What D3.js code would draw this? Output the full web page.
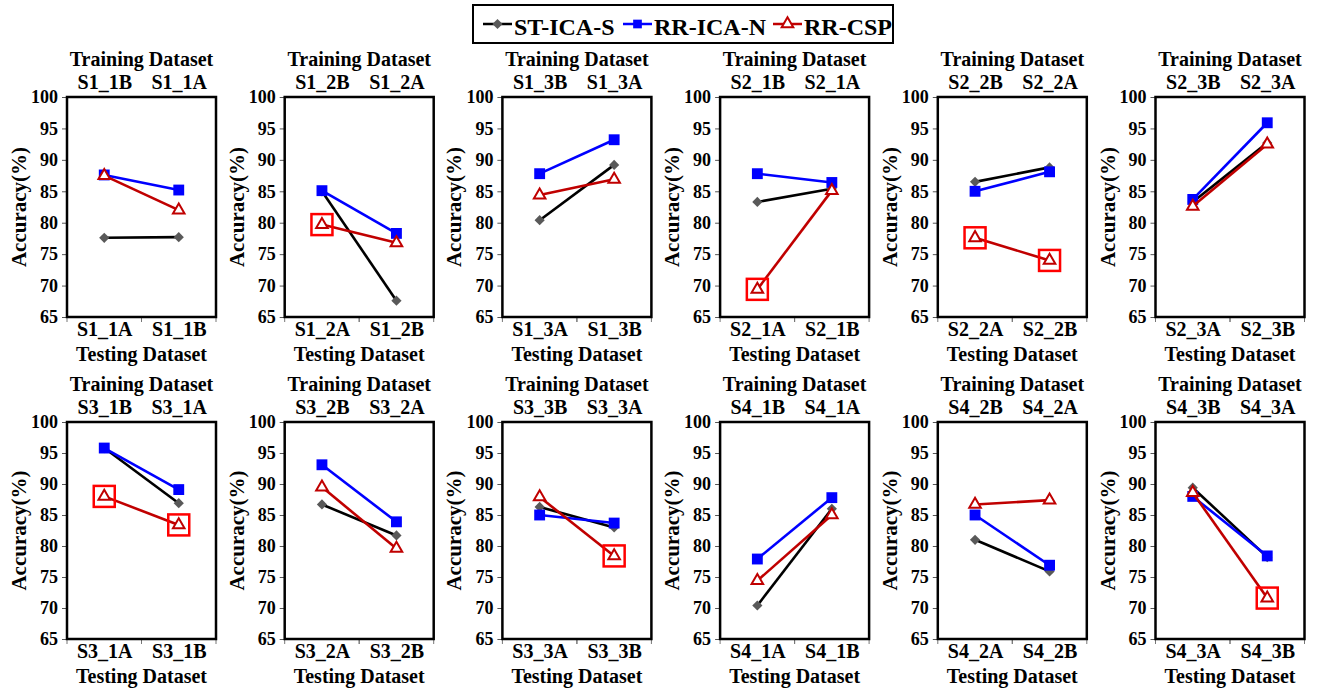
<!DOCTYPE html>
<html>
<head>
<meta charset="utf-8">
<script src="https://cdn.jsdelivr.net/npm/d3@7"></script>
<style>
  body { margin: 0; background: #fff; }
  text { font-family: "Liberation Serif", "Times New Roman", serif; font-weight: bold; }
</style>
</head>
<body>
<div id="chart"></div>
<script>
var series = ["ST-ICA-S", "RR-ICA-N", "RR-CSP"];

// top axis labels (training set) and bottom axis labels (testing set), one pair per panel
var trainLabels = [
    ["S1_1B", "S1_1A"], ["S1_2B", "S1_2A"], ["S1_3B", "S1_3A"],
    ["S2_1B", "S2_1A"], ["S2_2B", "S2_2A"], ["S2_3B", "S2_3A"],
    ["S3_1B", "S3_1A"], ["S3_2B", "S3_2A"], ["S3_3B", "S3_3A"],
    ["S4_1B", "S4_1A"], ["S4_2B", "S4_2A"], ["S4_3B", "S4_3A"]
];
var testLabels = [
    ["S1_1A", "S1_1B"], ["S1_2A", "S1_2B"], ["S1_3A", "S1_3B"],
    ["S2_1A", "S2_1B"], ["S2_2A", "S2_2B"], ["S2_3A", "S2_3B"],
    ["S3_1A", "S3_1B"], ["S3_2A", "S3_2B"], ["S3_3A", "S3_3B"],
    ["S4_1A", "S4_1B"], ["S4_2A", "S4_2B"], ["S4_3A", "S4_3B"]
];

var stIcaS = [
    [77.6, 77.7], [85.0, 67.6], [80.4, 89.2], [83.3, 85.4], [86.5, 88.8], [83.3, 92.7],
    [95.8, 86.9], [86.7, 81.7], [86.3, 83.0], [70.4, 86.0], [81.0, 75.9], [89.4, 78.2]
];
var rrIcaN = [
    [87.6, 85.2], [85.1, 78.3], [87.8, 93.2], [87.8, 86.4], [85.0, 88.1], [83.7, 95.9],
    [95.8, 89.1], [93.1, 83.9], [85.0, 83.7], [77.9, 87.8], [85.0, 76.9], [88.0, 78.4]
];
var rrCsp = [
    [87.5, 82.0], [79.7, 76.8], [84.4, 86.9], [69.4, 85.1], [77.6, 74.0], [82.6, 92.5],
    [88.0, 83.4], [89.5, 79.6], [87.9, 78.4], [74.4, 85.0], [86.7, 87.4], [88.6, 71.6]
];
// RR-CSP points marked with a red box (1 = marked)
var highlighted = [
    [0, 0], [1, 0], [0, 0], [1, 0], [1, 1], [0, 0],
    [1, 1], [0, 0], [0, 1], [0, 0], [0, 0], [0, 1]
];

var yTicks = [65, 70, 75, 80, 85, 90, 95, 100];

var colors = ["#000000", "#0000ff", "#c00000"];
var markerFill = ["#595959", "#0000ff", "#ffffff"];

var svg = d3.select("#chart")
    .append("svg")
    .attr("width", 1324)
    .attr("height", 688);

var rows = [{top: 97, height: 220}, {top: 422, height: 217}];
var panelW = 149;

function symbolFor(k) {
    if (k === 0) return d3.symbol().type(d3.symbolSquare).size(52)();
    if (k === 1) return d3.symbol().type(d3.symbolSquare).size(118)();
    return d3.symbol().type(d3.symbolTriangle).size(58)();
}

trainLabels.forEach(function(tl, i) {
    var row = rows[Math.floor(i / 6)];
    var left = 67 + (i % 6) * 217.7;
    var h = row.height;

    var g = svg.append("g")
        .attr("transform", "translate(" + left + "," + row.top + ")");

    var x = d3.scalePoint().domain(testLabels[i]).range([0, panelW]).padding(0.5);
    var xTop = d3.scalePoint().domain(tl).range([0, panelW]).padding(0.5);
    var xb = d3.scaleBand().domain(testLabels[i]).range([0, panelW]);
    var y = d3.scaleLinear().domain([65, 100]).range([h, 0]);

    // y axis
    var ya = g.append("g").call(d3.axisLeft(y).tickValues(yTicks).tickSize(5).tickPadding(4));
    ya.select(".domain").remove();
    ya.selectAll("text").style("font-size", "18px").attr("fill", "#000");
    ya.selectAll("line").attr("stroke", "#555");

    // bottom boundary ticks
    var bounds = [0].concat(testLabels[i].map(function(d) { return xb(d) + xb.bandwidth(); }));
    bounds.push(xb.bandwidth());
    g.selectAll(".bt").data(bounds).enter().append("line")
        .attr("x1", function(d) { return d; }).attr("x2", function(d) { return d; })
        .attr("y1", h).attr("y2", h + 5)
        .attr("stroke", "#777").attr("stroke-width", 1);

    // bottom axis labels
    var xa = g.append("g").attr("transform", "translate(0," + h + ")")
        .call(d3.axisBottom(x).tickSize(0).tickPadding(5));
    xa.select(".domain").remove();
    xa.selectAll("text").style("font-size", "20px").attr("fill", "#000");

    // top axis labels
    var ta = g.append("g").call(d3.axisTop(xTop).tickSize(0).tickPadding(8));
    ta.select(".domain").remove();
    ta.selectAll("text").style("font-size", "20px").attr("fill", "#000");

    // titles
    g.append("text").attr("x", panelW / 2).attr("y", -31)
        .attr("text-anchor", "middle").style("font-size", "20px").text("Training Dataset");
    g.append("text").attr("x", panelW / 2).attr("y", h + 44)
        .attr("text-anchor", "middle").style("font-size", "20px").text("Testing Dataset");
    g.append("text")
        .attr("transform", "translate(-41," + (h / 2) + ") rotate(-90)")
        .attr("text-anchor", "middle").style("font-size", "21px").text("Accuracy(%)");

    // frame
    g.append("rect").attr("width", panelW).attr("height", h)
        .attr("fill", "none").attr("stroke", "#000").attr("stroke-width", 2.5);

    var line = d3.line()
        .x(function(d, j) { return x(testLabels[i][j]); })
        .y(function(d) { return y(d); });

    [stIcaS[i], rrIcaN[i], rrCsp[i]].forEach(function(vals, k) {
        g.append("path").datum(vals).attr("d", line)
            .attr("fill", "none").attr("stroke", colors[k]).attr("stroke-width", 2.6);
        g.selectAll(".m" + k).data(vals).enter().append("path")
            .attr("class", "m" + k)
            .attr("d", symbolFor(k))
            .attr("transform", function(d, j) {
                return "translate(" + x(testLabels[i][j]) + "," + y(d) + ")" + (k === 0 ? " rotate(45)" : "");
            })
            .attr("fill", markerFill[k])
            .attr("stroke", k === 2 ? colors[2] : "none")
            .attr("stroke-width", 2);
    });

    // highlight boxes
    rrCsp[i].forEach(function(v, j) {
        if (!highlighted[i][j]) return;
        g.append("rect")
            .attr("x", x(testLabels[i][j]) - 10.5).attr("y", y(v) - 10.5)
            .attr("width", 21).attr("height", 21)
            .attr("fill", "none").attr("stroke", "#ff0000").attr("stroke-width", 2.5);
    });
});

// legend
var lg = svg.append("g");
lg.append("rect").attr("x", 473).attr("y", 5).attr("width", 420).attr("height", 38)
    .attr("fill", "#fff").attr("stroke", "#000").attr("stroke-width", 2);
var legendX = [483, 623, 773];
series.forEach(function(s, k) {
    var lx = legendX[k];
    lg.append("line").attr("x1", lx).attr("x2", lx + 29).attr("y1", 24).attr("y2", 24)
        .attr("stroke", colors[k]).attr("stroke-width", 2.5);
    lg.append("path").attr("d", symbolFor(k))
        .attr("transform", "translate(" + (lx + 14.5) + ",24)" + (k === 0 ? " rotate(45)" : "") + (k === 1 ? " scale(0.8)" : ""))
        .attr("fill", markerFill[k])
        .attr("stroke", k === 2 ? colors[2] : "none").attr("stroke-width", 2);
    lg.append("text").attr("x", lx + 31).attr("y", 35)
        .style("font-size", "24px").text(s);
});
</script>
</body>
</html>
